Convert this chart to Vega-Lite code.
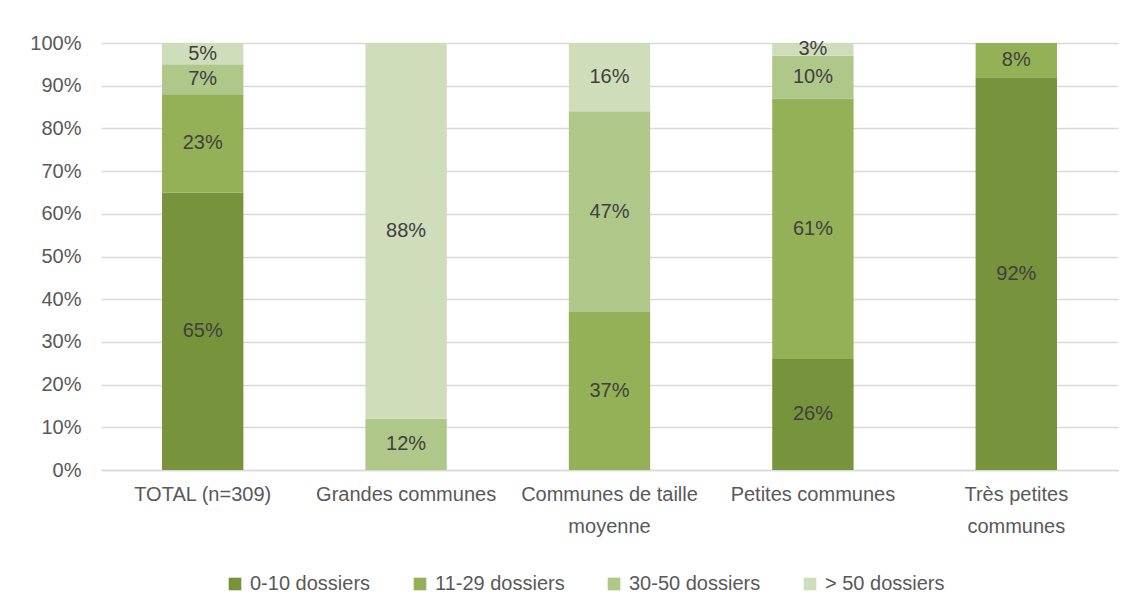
{
  "$schema": "https://vega.github.io/schema/vega-lite/v6.json",
  "width": 1017,
  "height": 427,
  "autosize": {"type": "none"},
  "padding": {"left": 101, "top": 43, "right": 20, "bottom": 143},
  "background": "white",
  "config": {
    "view": {"stroke": null},
    "font": "Liberation Sans",
    "axis": {"labelFont": "Liberation Sans", "labelColor": "#595959", "labelFontSize": 20}
  },
  "data": {
    "values": [
      {"cat": "TOTAL (n=309)", "tranche": "0-10 dossiers", "ord": 1, "pct": 65},
      {"cat": "TOTAL (n=309)", "tranche": "11-29 dossiers", "ord": 2, "pct": 23},
      {"cat": "TOTAL (n=309)", "tranche": "30-50 dossiers", "ord": 3, "pct": 7},
      {"cat": "TOTAL (n=309)", "tranche": "> 50 dossiers", "ord": 4, "pct": 5},
      {"cat": "Grandes communes", "tranche": "30-50 dossiers", "ord": 3, "pct": 12},
      {"cat": "Grandes communes", "tranche": "> 50 dossiers", "ord": 4, "pct": 88},
      {"cat": "Communes de taille|moyenne", "tranche": "11-29 dossiers", "ord": 2, "pct": 37},
      {"cat": "Communes de taille|moyenne", "tranche": "30-50 dossiers", "ord": 3, "pct": 47},
      {"cat": "Communes de taille|moyenne", "tranche": "> 50 dossiers", "ord": 4, "pct": 16},
      {"cat": "Petites communes", "tranche": "0-10 dossiers", "ord": 1, "pct": 26},
      {"cat": "Petites communes", "tranche": "11-29 dossiers", "ord": 2, "pct": 61},
      {"cat": "Petites communes", "tranche": "30-50 dossiers", "ord": 3, "pct": 10},
      {"cat": "Petites communes", "tranche": "> 50 dossiers", "ord": 4, "pct": 3},
      {"cat": "Très petites|communes", "tranche": "0-10 dossiers", "ord": 1, "pct": 92},
      {"cat": "Très petites|communes", "tranche": "11-29 dossiers", "ord": 2, "pct": 8}
    ]
  },
  "transform": [
    {"stack": "pct", "groupby": ["cat"], "sort": [{"field": "ord", "order": "ascending"}], "as": ["p0", "p1"]},
    {"calculate": "(datum.p0 + datum.p1) / 2", "as": "pmid"},
    {"calculate": "datum.pct + '%'", "as": "lbl"}
  ],
  "encoding": {
    "x": {
      "field": "cat", "type": "nominal",
      "sort": ["TOTAL (n=309)", "Grandes communes", "Communes de taille|moyenne", "Petites communes", "Très petites|communes"],
      "scale": {"paddingInner": 0.6, "paddingOuter": 0.3},
      "axis": {"title": null, "labelAngle": 0, "labelExpr": "split(datum.label, '|')", "ticks": false, "domainColor": "#D9D9D9", "domainWidth": 1.5, "labelPadding": 14, "labelLineHeight": 32, "labelLimit": 400, "labelOverlap": false}
    }
  },
  "layer": [
    {
      "mark": {"type": "bar"},
      "encoding": {
        "y": {"field": "p0", "type": "quantitative", "scale": {"domain": [0, 100]},
          "axis": {"title": null, "values": [0,10,20,30,40,50,60,70,80,90,100], "labelExpr": "datum.value + '%'", "ticks": false, "domain": false, "gridColor": "#D9D9D9", "gridWidth": 1.5, "labelPadding": 20}},
        "y2": {"field": "p1"},
        "color": {
          "field": "tranche", "type": "nominal",
          "scale": {"domain": ["0-10 dossiers", "11-29 dossiers", "30-50 dossiers", "> 50 dossiers"], "range": ["#77933C", "#94B157", "#AFC88A", "#D0DDBA"]},
          "legend": {"title": null, "orient": "none", "legendX": 124, "legendY": 531, "direction": "horizontal", "symbolType": "square", "symbolSize": 160, "symbolStrokeWidth": 0, "labelFontSize": 20, "labelFont": "Liberation Sans", "labelColor": "#595959", "columnPadding": 39, "labelOffset": 5}
        }
      }
    },
    {
      "mark": {"type": "text", "fontSize": 20, "color": "#404040", "font": "Liberation Sans"},
      "encoding": {
        "y": {"field": "pmid", "type": "quantitative"},
        "text": {"field": "lbl", "type": "nominal"},
        "detail": {"field": "tranche"}
      }
    }
  ]
}
